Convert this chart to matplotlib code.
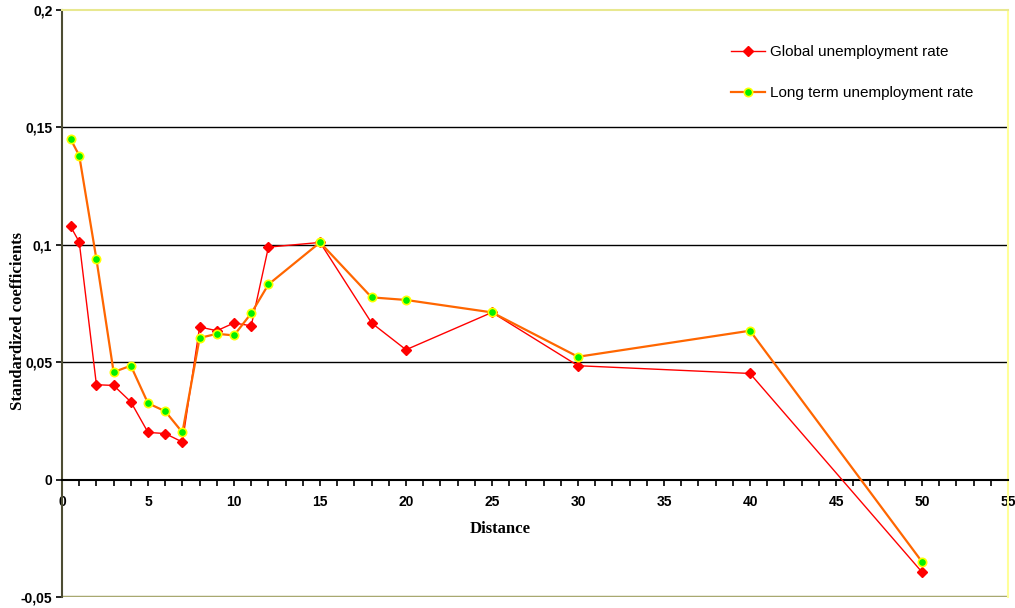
import numpy as np
import matplotlib
matplotlib.use('Agg')
import matplotlib.pyplot as plt
from matplotlib.ticker import MultipleLocator, FuncFormatter

# distances and standardized coefficients
distance = [0.5, 1, 2, 3, 4, 5, 6, 7, 8, 9, 10, 11, 12, 15, 18, 20, 25, 30, 40, 50]
global_rate = [0.1078, 0.1012, 0.0404, 0.0401, 0.0331, 0.0201, 0.0196, 0.0160,
               0.0650, 0.0634, 0.0667, 0.0655, 0.0990, 0.1010, 0.0667, 0.0553,
               0.0712, 0.0485, 0.0452, -0.0394]
long_term_rate = [0.1450, 0.1380, 0.0939, 0.0458, 0.0485, 0.0325, 0.0291, 0.0201,
                  0.0603, 0.0621, 0.0614, 0.0708, 0.0831, 0.1010, 0.0776, 0.0765,
                  0.0712, 0.0523, 0.0634, -0.0350]
yticks = [-0.05, 0, 0.05, 0.1, 0.15, 0.2]

plt.rcParams['font.family'] = ['Liberation Sans', 'DejaVu Sans']

fig = plt.figure(figsize=(10.15, 6.08), dpi=100)
ax = fig.add_axes([0.0611, 0.0181, 0.932, 0.9655])

ax.set_xlim(0, 55)
ax.set_ylim(-0.05, 0.2)

# horizontal grid lines
for y in [0.05, 0.1, 0.15]:
    ax.axhline(y, color='black', lw=1, zorder=1)
ax.axhline(-0.05, color='#a8a870', lw=2.5, zorder=1)

ax.plot(distance, global_rate, color='#ff0000', lw=1, marker='D', ms=5,
        mfc='#ff0000', mec='#ff0000', label='Global unemployment rate', zorder=3)
ax.plot(distance, long_term_rate, color='#ff6600', lw=1.6, marker='o', ms=6,
        mfc='#00ee00', mec='#ffff00', mew=1.2, label='Long term unemployment rate', zorder=4)

# x axis sits on y = 0
ax.spines['bottom'].set_position(('data', 0))
ax.spines['bottom'].set_color('black')
ax.spines['bottom'].set_linewidth(1.5)
ax.spines['left'].set_color('#4d4d33')
ax.spines['left'].set_linewidth(1.5)
ax.spines['top'].set_color('#e8e890')
ax.spines['top'].set_linewidth(1.5)
ax.spines['right'].set_color('#ffff99')
ax.spines['right'].set_linewidth(1.5)

ax.xaxis.set_major_locator(MultipleLocator(5))
ax.xaxis.set_minor_locator(MultipleLocator(1))
ax.tick_params(axis='x', which='major', length=4, width=1.2, direction='out', pad=7, labelsize=10)
ax.tick_params(axis='x', which='minor', length=4, width=1.2, direction='out')
ax.set_yticks(yticks)
ax.yaxis.set_major_formatter(FuncFormatter(lambda v, p: ('%g' % round(v, 3)).replace('.', ',')))
ax.tick_params(axis='y', length=4, width=1.2, labelsize=10, pad=3)
for lab in ax.get_xticklabels() + ax.get_yticklabels():
    lab.set_fontweight('bold')

ax.text(0.463, 0.116, 'Distance', transform=ax.transAxes, ha='center', va='center',
        family='Liberation Serif', fontweight='bold', fontsize=12)
ax.text(-0.047, 0.47, 'Standardized coefficients', transform=ax.transAxes, rotation=90,
        ha='center', va='center', family='Liberation Serif', fontweight='bold', fontsize=12)

ax.legend(loc='upper left', bbox_to_anchor=(0.693, 0.963), frameon=False, fontsize=11,
          labelspacing=1.75, handlelength=2.2, handletextpad=0.35)

plt.savefig('out.png', dpi=100)
